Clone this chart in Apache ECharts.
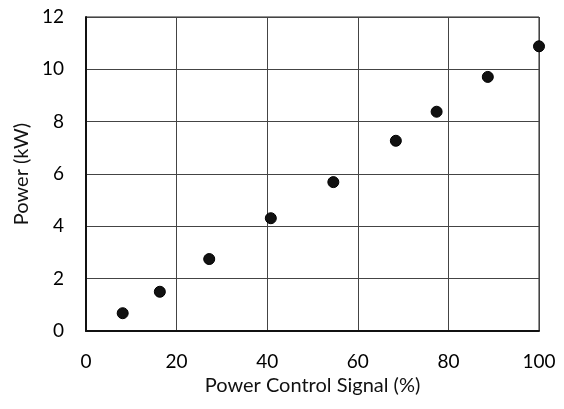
<!DOCTYPE html>
<html><head><meta charset="utf-8">
<script src="https://cdn.jsdelivr.net/npm/echarts@6/dist/echarts.min.js"></script>
<style>html,body{margin:0;padding:0;background:#fff}#c{width:564px;height:409px}</style>
</head><body><div id="c"></div>
<script>
const signal = [8.1, 16.3, 27.2, 40.8, 54.6, 68.4, 77.4, 88.7, 100];
const power = [0.68, 1.50, 2.75, 4.31, 5.69, 7.27, 8.38, 9.71, 10.88];
const xTicks = [0, 20, 40, 60, 80, 100];
const yTicks = [0, 2, 4, 6, 8, 10, 12];
const xTitle = 'Power Control Signal (%)';
const yTitle = 'Power (kW)';

const font = 'Lato, "Open Sans", sans-serif';
const chart = echarts.init(document.getElementById('c'), null, {renderer: 'canvas'});
chart.setOption({
  animation: false,
  backgroundColor: '#fff',
  grid: {left: 86, right: 25, top: 17, bottom: 78, show: true, borderColor: '#222', borderWidth: 1},
  xAxis: {
    type: 'value', min: xTicks[0], max: xTicks[xTicks.length - 1], interval: 20,
    name: xTitle, nameLocation: 'middle', nameGap: 42,
    nameTextStyle: {fontFamily: font, fontSize: 20, color: '#111'},
    axisLine: {show: true, lineStyle: {color: '#111', width: 2}},
    axisTick: {show: false},
    axisLabel: {fontFamily: font, fontSize: 19, color: '#000', margin: 21},
    splitLine: {show: true, lineStyle: {color: '#444', width: 1}}
  },
  yAxis: {
    type: 'value', min: yTicks[0], max: yTicks[yTicks.length - 1], interval: 2,
    name: yTitle, nameLocation: 'middle', nameGap: 54, nameRotate: 90,
    nameTextStyle: {fontFamily: font, fontSize: 20, color: '#111'},
    axisLine: {show: true, lineStyle: {color: '#111', width: 2}},
    axisTick: {show: false},
    axisLabel: {fontFamily: font, fontSize: 19, color: '#000', margin: 22},
    splitLine: {show: true, lineStyle: {color: '#444', width: 1}}
  },
  series: [{
    type: 'scatter',
    data: signal.map((s, i) => [s, power[i]]),
    symbol: 'circle', symbolSize: 11,
    itemStyle: {color: '#111', borderColor: '#000', borderWidth: 1, opacity: 1}
  }]
});
</script></body></html>
